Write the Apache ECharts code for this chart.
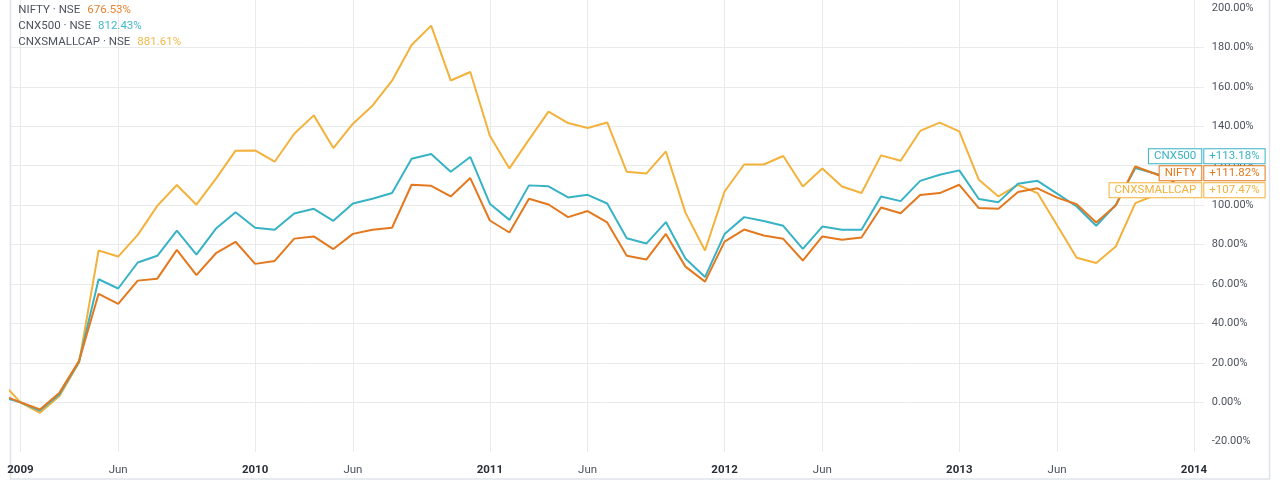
<!DOCTYPE html>
<html>
<head>
<meta charset="utf-8">
<script src="https://cdn.jsdelivr.net/npm/echarts@6/dist/echarts.min.js"></script>
<style>
html,body{margin:0;padding:0;background:#ffffff;}
#chart{width:1281px;height:489px;}
</style>
</head>
<body>
<div id="chart"></div>
<script>
// ---------- DATA ----------
const seriesNames = ['NIFTY', 'CNX500', 'CNXSMALLCAP'];
const exchange = 'NSE';
const legendValues = ['676.53%', '812.43%', '881.61%'];
const lastValues = [111.82, 113.18, 107.47];
const lastLabels = ['+111.82%', '+113.18%', '+107.47%'];

// monthly points Dec 2008 .. Dec 2013
const firstMonth = '2008-12';
const months = [];
(function () {
  let y = 2008, m = 12;
  for (let i = 0; i < 61; i++) {
    months.push(y + '-' + String(m).padStart(2, '0'));
    m++; if (m > 12) { m = 1; y++; }
  }
})();

const xTickMonths = ['2009-01','2009-06','2010-01','2010-06','2011-01','2011-06',
                     '2012-01','2012-06','2013-01','2013-06','2014-01'];
const yTicks = [-20, 0, 20, 40, 60, 80, 100, 120, 140, 160, 180, 200];

const nifty = [4.0, 0, -3.6, 4.9, 21.0, 55.0, 49.9, 61.7, 62.7, 77.3, 64.5, 75.6, 81.4,
  70.2, 71.7, 83.0, 84.1, 77.7, 85.4, 87.5, 88.5, 110.3, 109.8, 104.4, 113.7,
  92.2, 86.1, 103.2, 100.3, 93.9, 97.0, 91.2, 74.3, 72.4, 85.4, 68.8, 61.2,
  81.5, 87.6, 84.6, 82.9, 71.9, 84.1, 82.4, 83.6, 98.8, 95.9, 105.1, 106.1,
  110.3, 98.5, 98.1, 106.6, 108.5, 103.8, 100.4, 91.2, 99.8, 119.6, 115.9, 111.82];

const cnx500 = [3.0, 0, -4.2, 4.1, 20.6, 62.4, 57.7, 70.9, 74.3, 87.0, 74.9, 88.1, 96.4,
  88.5, 87.5, 95.7, 98.1, 92.0, 100.8, 103.2, 106.1, 123.5, 125.9, 116.9, 124.4,
  100.7, 92.5, 110.0, 109.5, 103.9, 105.2, 100.8, 83.2, 80.5, 91.4, 72.9, 63.5,
  85.3, 93.9, 91.9, 89.5, 77.8, 89.1, 87.5, 87.5, 104.4, 102.0, 112.3, 115.4,
  117.6, 103.1, 101.5, 110.8, 112.3, 105.8, 99.3, 89.5, 100.2, 118.8, 116.0, 113.18];

const smallcap = [10.8, 0, -5.3, 3.2, 20.2, 77.0, 73.9, 84.9, 99.6, 110.2, 100.2, 113.4, 127.6,
  127.7, 122.0, 136.2, 145.5, 128.9, 141.3, 150.4, 163.1, 181.2, 191.0, 163.2, 167.5,
  135.2, 118.6, 133.2, 147.4, 141.6, 139.1, 141.9, 116.9, 116.0, 127.2, 96.2, 77.0,
  106.9, 120.6, 120.6, 124.9, 109.4, 118.6, 109.4, 106.1, 125.2, 122.5, 137.6, 141.8,
  137.4, 112.8, 104.4, 110.2, 106.1, 89.8, 73.3, 70.6, 79.0, 101.0, 105.0, 107.47];

// ---------- STYLE ----------
const colors = ['#e3781e', '#38b2c5', '#f2b23c'];
const legendValueColors = ['#e8842f', '#45b8c9', '#f3b848'];
const textColor = '#4c525e';
const gridColor = '#e9eaec';
const FONT = 'Roboto, "Liberation Sans", sans-serif';

function monthIndex(s) {
  const p = s.split('-');
  return (+p[0] - 2009) * 12 + (+p[1] - 1);
}
function toPairs(vals) {
  return months.map((m, i) => [monthIndex(m), vals[i]]);
}
const seriesValues = [nifty, cnx500, smallcap];

const chart = echarts.init(document.getElementById('chart'), null, { renderer: 'canvas' });

const legendRich = {
  n: { color: textColor, fontSize: 11.5, fontFamily: FONT, padding: [0, 7, 0, 0], lineHeight: 13 }
};
seriesNames.forEach((n, i) => {
  legendRich['v' + i] = { color: legendValueColors[i], fontSize: 11.5, fontFamily: FONT, lineHeight: 13 };
});

const xMin = monthIndex(xTickMonths[0]) - 0.5;
const xMax = monthIndex(xTickMonths[xTickMonths.length - 1]) + 0.5;

const option = {
  animation: false,
  backgroundColor: '#ffffff',
  textStyle: { fontFamily: FONT },
  grid: { left: 10.6, right: 77.2, top: 0, bottom: 37, outerBoundsMode: 'none', containLabel: false },
  legend: {
    data: seriesNames,
    orient: 'vertical',
    left: 13.3,
    top: 4,
    padding: 0,
    itemGap: 4,
    itemWidth: 0,
    itemHeight: 0,
    icon: 'rect',
    selectedMode: false,
    formatter: function (name) {
      const i = seriesNames.indexOf(name);
      return '{n|' + name + ' \u00b7 ' + exchange + '}{v' + i + '|' + legendValues[i] + '}';
    },
    textStyle: { rich: legendRich }
  },
  xAxis: {
    type: 'value',
    min: xMin,
    max: xMax,
    axisLine: { show: false },
    axisTick: { show: false, customValues: xTickMonths.map(monthIndex) },
    splitLine: { show: true, lineStyle: { color: gridColor, width: 1 } },
    axisLabel: {
      customValues: xTickMonths.map(monthIndex),
      margin: 12,
      fontSize: 11.5,
      color: textColor,
      fontFamily: FONT,
      formatter: function (v) {
        const idx = Math.round(v);
        const mm = ((idx % 12) + 12) % 12;
        const yy = 2009 + Math.floor(idx / 12);
        return mm === 0 ? '{y|' + yy + '}' : 'Jun';
      },
      rich: { y: { fontSize: 11.5, color: '#2a2e39', fontFamily: FONT, fontWeight: 'bold' } }
    }
  },
  yAxis: {
    type: 'value',
    position: 'right',
    min: -25.2,
    max: 204.0,
    axisLine: { show: false },
    axisTick: { show: false, customValues: yTicks },
    splitLine: { show: true, showMinLine: false, showMaxLine: false, lineStyle: { color: gridColor, width: 1 } },
    axisLabel: {
      customValues: yTicks,
      margin: 8,
      fontSize: 11,
      color: textColor,
      fontFamily: FONT,
      showMinLabel: true,
      showMaxLabel: true,
      formatter: function (v) { return v.toFixed(2) + '%'; }
    }
  },
  series: [2, 1, 0].map(i => ({
    name: seriesNames[i],
    type: 'line',
    data: toPairs(seriesValues[i]),
    showSymbol: false,
    symbol: 'none',
    clip: true,
    color: colors[i],
    lineStyle: { color: colors[i], width: 2 },
    emphasis: { disabled: true },
    z: 3 + (2 - i)
  }))
};

chart.setOption(option);

// ---------- end-of-line labels (positioned through the chart's own scales) ----------
function buildEndLabels() {
  const items = seriesNames.map((n, i) => {
    const p = chart.convertToPixel({ gridIndex: 0 }, [xMax, lastValues[i]]);
    return { i: i, x: p[0], y: p[1] };
  });
  items.sort((a, b) => b.y - a.y);
  const gap = 17;
  for (let k = 1; k < items.length; k++) {
    items[k].y = Math.min(items[k].y, items[k - 1].y - gap);
  }
  const g = [];
  items.forEach(it => {
    const c = colors[it.i];
    g.push({
      type: 'text', z: 100, silent: true,
      x: it.x - 2.5, y: it.y,
      style: {
        text: seriesNames[it.i], fill: c, font: '11.5px ' + FONT,
        backgroundColor: 'rgba(255,255,255,0.95)', borderColor: c, borderWidth: 1,
        padding: [1, 5, 1, 5], align: 'right', verticalAlign: 'middle'
      }
    });
    g.push({
      type: 'text', z: 100, silent: true,
      x: it.x + 0.5, y: it.y,
      style: {
        text: lastLabels[it.i], fill: c, font: '11.5px ' + FONT,
        backgroundColor: '#ffffff', borderColor: c, borderWidth: 1,
        padding: [1, 5, 1, 5], align: 'left', verticalAlign: 'middle'
      }
    });
  });
  // widget frame
  const left = chart.convertToPixel({ gridIndex: 0 }, [xMin, 0])[0];
  g.push({
    type: 'rect', z: -10, silent: true,
    shape: { x: Math.round(left) - 0.5, y: -5, width: 1270 - Math.round(left), height: 484 },
    style: { fill: 'none', stroke: '#e0e3eb', lineWidth: 1.5 }
  });
  chart.setOption({ graphic: g });
}
buildEndLabels();
</script>
</body>
</html>
